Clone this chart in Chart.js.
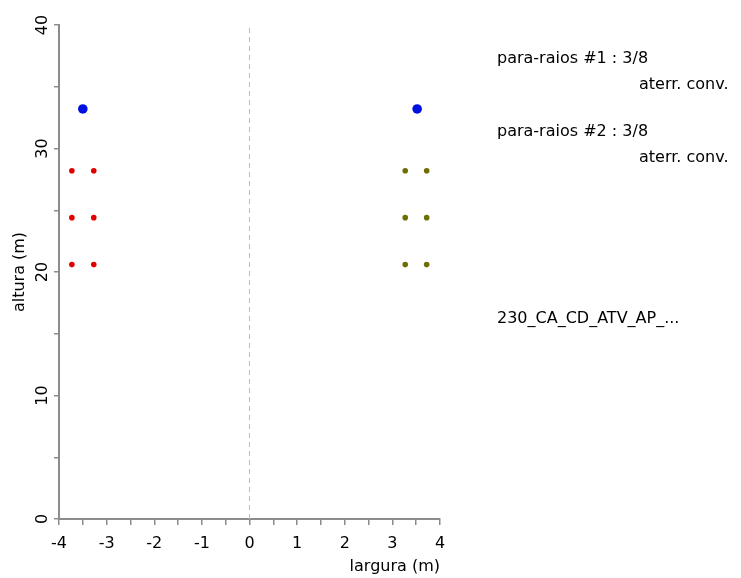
<!DOCTYPE html>
<html>
<head>
<meta charset="utf-8">
<script src="https://cdn.jsdelivr.net/npm/chart.js@4"></script>
<style>
  body { margin: 0; background: #fff; }
  canvas { display: block; }
</style>
</head>
<body>
<canvas id="silhueta" width="741" height="578"></canvas>
<script>
// pontos da silhueta da torre (m)
const pararaiosX = [-3.5, 3.52];
const pararaiosY = [33.2, 33.2];
const circuito1X = [-3.73, -3.27, -3.73, -3.27, -3.73, -3.27];
const circuito1Y = [28.2, 28.2, 24.4, 24.4, 20.6, 20.6];
const circuito2X = [3.27, 3.72, 3.27, 3.72, 3.27, 3.72];
const circuito2Y = [28.2, 28.2, 24.4, 24.4, 20.6, 20.6];
const eixoX = [0, 0];
const eixoY = [0, 40];

const xTicks = [-4, -3, -2, -1, 0, 1, 2, 3, 4];
const yTicks = [0, 10, 20, 30, 40];

const legendaTextos = ['para-raios #1 : 3/8', 'aterr. conv.', 'para-raios #2 : 3/8', 'aterr. conv.', '230_CA_CD_ATV_AP_...'];

const pontos = (xs, ys) => xs.map((x, i) => ({ x: x, y: ys[i] }));
const fonte = { family: 'DejaVu Sans', size: 16 };

// rótulos do eixo y girados e textos à direita
const textosPlugin = {
  id: 'textos',
  afterDraw(chart) {
    const ctx = chart.ctx;
    const ys = chart.scales.y;
    ctx.save();
    ctx.fillStyle = '#000';
    ctx.font = '16px "DejaVu Sans"';
    ctx.textAlign = 'center';
    ctx.textBaseline = 'middle';
    ys.ticks.forEach(t => {
      if (!yTicks.includes(t.value)) return;
      const py = ys.getPixelForValue(t.value);
      ctx.save();
      ctx.translate(43, py);
      ctx.rotate(-Math.PI / 2);
      ctx.fillText(String(t.value), 0, 0);
      ctx.restore();
    });
    ctx.textAlign = 'left';
    ctx.textBaseline = 'alphabetic';
    ctx.fillText(legendaTextos[0], 497, 63);
    ctx.fillText(legendaTextos[1], 639, 89);
    ctx.fillText(legendaTextos[2], 497, 136);
    ctx.fillText(legendaTextos[3], 639, 162);
    ctx.fillText(legendaTextos[4], 497, 323);
    ctx.restore();
  }
};

new Chart(document.getElementById('silhueta').getContext('2d'), {
  type: 'scatter',
  data: {
    datasets: [
      {
        data: pontos(eixoX, eixoY),
        showLine: true,
        borderColor: '#bcbcbc',
        borderWidth: 1,
        borderDash: [5, 4],
        pointRadius: 0
      },
      {
        data: pontos(pararaiosX, pararaiosY),
        backgroundColor: '#0010e0',
        borderColor: '#0010e0',
        pointRadius: 4.8,
        borderWidth: 0
      },
      {
        data: pontos(circuito1X, circuito1Y),
        backgroundColor: '#e00000',
        borderColor: '#e00000',
        pointRadius: 2.8,
        borderWidth: 0
      },
      {
        data: pontos(circuito2X, circuito2Y),
        backgroundColor: '#6e6e00',
        borderColor: '#6e6e00',
        pointRadius: 2.8,
        borderWidth: 0
      }
    ]
  },
  options: {
    responsive: false,
    animation: false,
    layout: { padding: { top: 25, right: 301, left: 0, bottom: 0 } },
    plugins: {
      legend: { display: false },
      tooltip: { enabled: false }
    },
    scales: {
      x: {
        type: 'linear',
        min: -4,
        max: 4,
        afterFit: s => { s.height = 59; },
        ticks: {
          stepSize: 0.5,
          color: '#000',
          font: fonte,
          padding: 9,
          maxRotation: 0,
          callback: v => xTicks.includes(v) ? String(v) : ''
        },
        grid: { drawOnChartArea: false, drawTicks: true, tickLength: 6, color: '#8c8c8c', lineWidth: 1.5 },
        border: { color: '#8c8c8c', width: 2 },
        title: { display: true, text: 'largura (m)', align: 'end', color: '#000', font: fonte, padding: { top: 0, bottom: 2 } }
      },
      y: {
        min: 0,
        max: 40,
        afterFit: s => { s.width = 59; },
        ticks: { stepSize: 5, display: false },
        grid: { drawOnChartArea: false, drawTicks: true, tickLength: 5, color: '#8c8c8c', lineWidth: 1.5 },
        border: { color: '#8c8c8c', width: 2 },
        title: { display: true, text: 'altura (m)', color: '#000', font: fonte, padding: { top: 10, bottom: 0 } }
      }
    }
  },
  plugins: [textosPlugin]
});
</script>
</body>
</html>
